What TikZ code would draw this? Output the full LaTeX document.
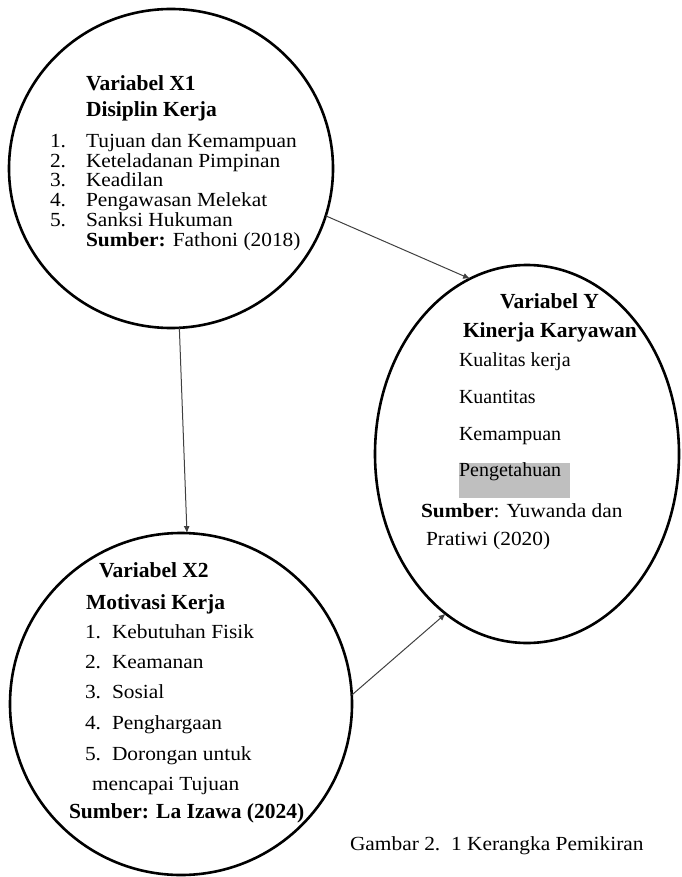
\documentclass[tikz,border=0pt]{standalone}
\usepackage{fontspec}
\setmainfont{Liberation Serif}
\usetikzlibrary{shapes.geometric,arrows.meta}
\newcommand\rtxt[1]{\scalebox{1.07}[1]{#1}}
\begin{document}
\begin{tikzpicture}[x=1pt,y=-1pt,
  oval/.style={ellipse, draw, line width=2.6pt, inner sep=0pt, outer sep=0pt},
  txt/.style={anchor=base west, inner sep=0pt, outer sep=0pt, text height=14pt, text depth=4pt, font=\fontsize{20pt}{24pt}\selectfont},
  btxt/.style={txt, font=\fontsize{21.5pt}{24pt}\selectfont\bfseries},
  link/.style={line width=1pt, draw=black!75, -{Latex[length=7pt,width=6pt]}}]
\useasboundingbox (0,0) rectangle (681,877);

% ellipses
\node[oval, minimum width=324pt, minimum height=319pt] (x1) at (171,168.5) {};
\node[oval, minimum width=304pt, minimum height=378pt] (y) at (527,454) {};
\node[oval, minimum width=342pt, minimum height=342pt] (x2) at (181,704) {};

% X1 text
\node[btxt] (x1a) at (86,91) {Variabel X1};
\node[btxt] (x1b) at (86,117) {Disiplin Kerja};
\node[txt] (x1n1) at (50,148) {\rtxt{1.}};
\node[txt] (x1i1) at (86,148) {\rtxt{Tujuan dan Kemampuan}};
\node[txt] (x1n2) at (50,168) {\rtxt{2.}};
\node[txt] (x1i2) at (86,168) {\rtxt{Keteladanan Pimpinan}};
\node[txt] (x1n3) at (50,187) {\rtxt{3.}};
\node[txt] (x1i3) at (86,187) {\rtxt{Keadilan}};
\node[txt] (x1n4) at (50,207) {\rtxt{4.}};
\node[txt] (x1i4) at (86,207) {\rtxt{Pengawasan Melekat}};
\node[txt] (x1n5) at (50,226) {\rtxt{5.}};
\node[txt] (x1i5) at (86,226) {\rtxt{Sanksi Hukuman}};
\node[txt] (x1s) at (86,247) {\rtxt{\textbf{Sumber:} Fathoni (2018)}};

% Y text
\fill[black!25] (459,463) rectangle (570,498);
\node[btxt] (ya) at (500,308) {Variabel Y};
\node[btxt] (yb) at (463,337) {Kinerja Karyawan};
\node[txt] (yi1) at (459,366) {Kualitas kerja};
\node[txt] (yi2) at (459,403) {Kuantitas};
\node[txt] (yi3) at (459,440) {Kemampuan};
\node[txt] (yi4) at (459,476) {Pengetahuan};
\node[txt] (ys1) at (421,517) {\rtxt{\textbf{Sumber}: Yuwanda dan}};
\node[txt] (ys2) at (426,545) {\rtxt{Pratiwi (2020)}};

% X2 text
\node[btxt] (x2a) at (99,577) {Variabel X2};
\node[btxt] (x2b) at (86,609) {Motivasi Kerja};
\node[txt] (x2n1) at (85,638) {\rtxt{1.}};
\node[txt] (x2i1) at (112,638) {\rtxt{Kebutuhan Fisik}};
\node[txt] (x2n2) at (85,668) {\rtxt{2.}};
\node[txt] (x2i2) at (112,668) {\rtxt{Keamanan}};
\node[txt] (x2n3) at (85,698) {\rtxt{3.}};
\node[txt] (x2i3) at (112,698) {\rtxt{Sosial}};
\node[txt] (x2n4) at (85,729) {\rtxt{4.}};
\node[txt] (x2i4) at (112,729) {\rtxt{Penghargaan}};
\node[txt] (x2n5) at (85,760) {\rtxt{5.}};
\node[txt] (x2i5) at (112,760) {\rtxt{Dorongan untuk}};
\node[txt] (x2i6) at (92,790) {\rtxt{mencapai Tujuan}};
\node[btxt] (x2s) at (69,818) {Sumber: La Izawa (2024)};

% caption
\node[txt] (cap) at (350,850) {\rtxt{Gambar 2.\ \ 1 Kerangka Pemikiran}};

% connectors
\draw[link] (x1.-17.1) -- (y.108.8);
\draw[link] (x1.-87.5) -- (x2.88.7);
\draw[link] (x2.3.7) -- (y.-117.8);
\end{tikzpicture}
\end{document}
